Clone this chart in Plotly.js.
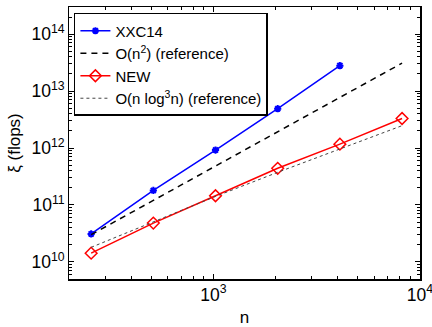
<!DOCTYPE html>
<html>
<head>
<meta charset="utf-8">
<script src="https://cdn.plot.ly/plotly-3.0.1.min.js"></script>
<style>html,body{margin:0;padding:0;background:#fff;}#chart{width:432px;height:327px;}</style>
</head>
<body>
<div id="chart"></div>
<script>
const nXXC = [256, 512, 1024, 2048, 4096];
const flopsXXC = [3.1e10, 1.8e11, 9.2e11, 4.9e12, 2.8e13];
const nRef = [256, 512, 1024, 2048, 4096, 8192];
const refN2 = [3.0e10, 1.2e11, 4.8e11, 1.9e12, 7.7e12, 3.1e13];
const nNEW = [256, 512, 1024, 2048, 4096, 8192];
const flopsNEW = [1.42e10, 4.8e10, 1.45e11, 4.4e11, 1.17e12, 3.3e12];
const refNlog3 = [1.8e10, 5.1e10, 1.41e11, 3.74e11, 9.7e11, 2.47e12];

const font = {family: 'Liberation Sans, Arial, sans-serif', color: '#000'};

const traces = [
  {x: nXXC, y: flopsXXC, name: 'XXC14', mode: 'lines+markers',
   line: {color: '#0000ff', width: 1.5},
   marker: {symbol: 'asterisk-open', size: 6, color: '#0000ff', line: {color: '#0000ff', width: 2}}},
  {x: nRef, y: refN2, name: 'O(n<sup>2</sup>) (reference)', mode: 'lines',
   line: {color: '#000', width: 1.5, dash: '6px,5px'}},
  {x: nNEW, y: flopsNEW, name: 'NEW', mode: 'lines+markers',
   line: {color: '#ff0000', width: 1.5},
   marker: {symbol: 'diamond-open', size: 9, color: '#ff0000', line: {color: '#ff0000', width: 1.5}}},
  {x: nRef, y: refNlog3, name: 'O(n log<sup>3</sup>n) (reference)', mode: 'lines',
   line: {color: '#444', width: 1, dash: 'dot'}}
];

const axisCommon = {
  type: 'log', showline: true, linecolor: '#000', linewidth: 1.5, mirror: 'ticks',
  ticks: 'inside', ticklen: 5, tickcolor: '#000', tickwidth: 1,
  showgrid: false, zeroline: false, exponentformat: 'power', dtick: 1,
  ticklabeloverflow: 'allow',
  tickfont: Object.assign({size: 14}, font),
  minor: {ticks: 'inside', ticklen: 3, tickcolor: '#000', dtick: 'D1', showgrid: false}
};

const layout = {
  width: 432, height: 327,
  margin: {l: 69, r: 12, t: 7, b: 48},
  paper_bgcolor: '#fff', plot_bgcolor: '#fff',
  showlegend: true,
  font: font,
  xaxis: Object.assign({}, axisCommon, {
    range: [Math.log10(200), 4.0002],
    title: {text: 'n', font: Object.assign({size: 17}, font), standoff: 7}
  }),
  yaxis: Object.assign({}, axisCommon, {
    range: [Math.log10(5e9), Math.log10(3e14)],
    title: {text: 'ξ (flops)', font: Object.assign({size: 17}, font), standoff: 6}
  }),
  legend: {
    x: 0.014, y: 0.978, xanchor: 'left', yanchor: 'top',
    bgcolor: '#fff', bordercolor: '#000', borderwidth: 1.5,
    font: Object.assign({size: 15}, font),
    tracegroupgap: 0, itemwidth: 30
  }
};

Plotly.newPlot('chart', traces, layout, {displayModeBar: false, staticPlot: true});
</script>
</body>
</html>
